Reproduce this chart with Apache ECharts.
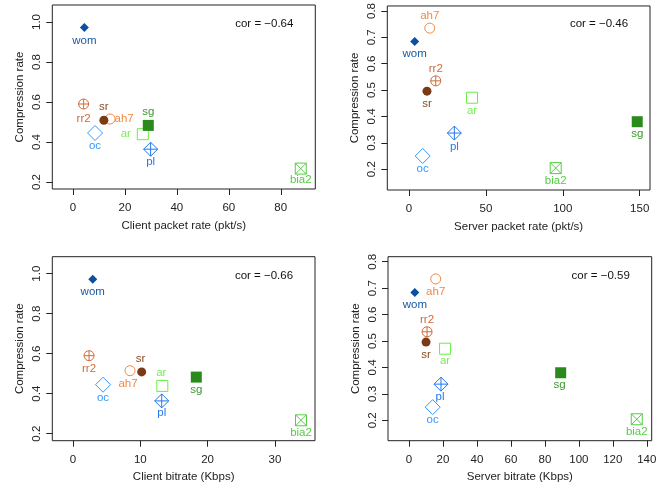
<!DOCTYPE html>
<html><head><meta charset="utf-8">
<script src="https://cdn.jsdelivr.net/npm/echarts@6/dist/echarts.min.js"></script>
<style>html,body{margin:0;padding:0;background:#fff}#c{width:669px;height:485px}</style>
</head><body><div id="c"></div>
<script>
// ---------- data ----------
const names = ['wom','rr2','ah7','sr','oc','ar','sg','pl','bia2'];
const clientPktRate = [4.4, 4.1, 14.3, 11.9, 8.5, 26.9, 29.0, 29.9, 87.7];
const serverPktRate = [3.7, 17.4, 13.5, 11.7, 8.9, 41.0, 148.4, 29.5, 95.4];
const clientBitrate = [2.93, 2.38, 8.47, 10.2, 4.46, 13.27, 18.32, 13.18, 33.88];
const serverBitrate = [3.4, 10.6, 15.7, 10.0, 13.9, 21.2, 89.3, 18.8, 134.1];
const clientCompression = [0.972, 0.59, 0.515, 0.509, 0.445, 0.439, 0.483, 0.364, 0.267];
const serverCompression = [0.684, 0.535, 0.735, 0.496, 0.250, 0.471, 0.380, 0.337, 0.204];
const correlations = ['cor = \u22120.64', 'cor = \u22120.46', 'cor = \u22120.66', 'cor = \u22120.59'];
const xTicks1 = [0, 20, 40, 60, 80];
const xTicks2 = [0, 50, 100, 150];
const xTicks3 = [0, 10, 20, 30];
const xTicks4 = [0, 20, 40, 60, 80, 100, 120, 140];
const yTicksClient = [0.2, 0.4, 0.6, 0.8, 1.0];
const yTicksServer = [0.2, 0.3, 0.4, 0.5, 0.6, 0.7, 0.8];
const xTitles = ['Client packet rate (pkt/s)', 'Server packet rate (pkt/s)', 'Client bitrate (Kbps)', 'Server bitrate (Kbps)'];
const yTitle = 'Compression rate';

// ---------- styling ----------
const FONT = '"Liberation Sans", Arial, Helvetica, sans-serif';
const FS = 11.5;
const TXT = '#222';
const circlePlus = 'path://M-10,0A10,10,0,1,1,10,0A10,10,0,1,1,-10,0ZM0,-10L0,10M-10,0L10,0';
const diamondPlus = 'path://M0,-10L10,0L0,10L-10,0ZM0,-10L0,10M-10,0L10,0';
const squareX = 'path://M-10,-10L10,-10L10,10L-10,10ZM-10,-10L10,10M10,-10L-10,10';
const markerStyle = {
  wom:  {symbol:'diamond', size:9,  filled:true,  color:'#0a4fa0', label:'#1a5aa5'},
  rr2:  {symbol:circlePlus, size:10, filled:false, color:'#cf6a37', label:'#cf6a37'},
  ah7:  {symbol:'circle',  size:10, filled:false, color:'#f5883f', label:'#f5883f'},
  sr:   {symbol:'circle',  size:9,  filled:true,  color:'#7b3a16', label:'#8b4a22'},
  oc:   {symbol:'diamond', size:15, filled:false, color:'#3399ff', label:'#3399ff'},
  ar:   {symbol:'rect',    size:11, filled:false, color:'#66ee44', label:'#77ee55'},
  sg:   {symbol:'rect',    size:11, filled:true,  color:'#2a8a1c', label:'#3a9a2c'},
  pl:   {symbol:diamondPlus, size:14, filled:false, color:'#2277ee', label:'#2277ee'},
  bia2: {symbol:squareX,   size:11, filled:false, color:'#55cc44', label:'#55cc44'}
};
const labelOffsets = [
  {wom:[0,13], rr2:[0,14.5], ah7:[14,0], sr:[0,-13.5], oc:[0,13], ar:[-17,0], sg:[0,-13.5], pl:[0,12.7], bia2:[0,11.5]},
  {ah7:[0,-12.3], wom:[0,12.7], rr2:[0,-12], sr:[0,13], ar:[0,13], pl:[0,13.3], oc:[0,12.7], bia2:[0,13], sg:[0,11.7]},
  {wom:[0,13], rr2:[0,13.3], ah7:[-2,13.3], sr:[-1,-13.3], oc:[0,12.7], ar:[-1,-13.3], sg:[0,13], pl:[0,12.3], bia2:[0,12.7]},
  {ah7:[0,13.3], wom:[0,12.7], rr2:[0,-12.3], sr:[0,13], ar:[0,11.7], sg:[-1,12], pl:[-1,12.3], oc:[0,12.7], bia2:[0,12.3]}
];
const grids = [
  {left:52.3, top:5,     width:263,   height:184},
  {left:387.3, top:5,    width:262.7, height:185},
  {left:52.3, top:256.7, width:262.7, height:184},
  {left:388, top:256.7,  width:263.7, height:184}
];
const xRanges = [[-7.96, 93.3], [-14.1, 156.7], [-3.08, 35.96], [-12.4, 142.9]];
const yRanges = [[0.165, 1.085], [0.121, 0.819], [0.165, 1.085], [0.123, 0.819]];
const panels = [
  {xs: clientPktRate, ys: clientCompression, xt: xTicks1, yt: yTicksClient},
  {xs: serverPktRate, ys: serverCompression, xt: xTicks2, yt: yTicksServer},
  {xs: clientBitrate, ys: clientCompression, xt: xTicks3, yt: yTicksClient},
  {xs: serverBitrate, ys: serverCompression, xt: xTicks4, yt: yTicksServer}
];

const option = {
  animation: false,
  backgroundColor: '#fff',
  grid: grids.map(g => ({left:g.left, top:g.top, width:g.width, height:g.height, show:true,
    borderColor:TXT, borderWidth:1, backgroundColor:'transparent', containLabel:false})),
  xAxis: panels.map((p, i) => ({
    gridIndex:i, type:'value', min:xRanges[i][0], max:xRanges[i][1],
    name:xTitles[i], nameLocation:'middle', nameGap:30.5,
    nameTextStyle:{fontSize:FS, color:TXT, fontFamily:FONT},
    axisLine:{show:false, onZero:false},
    axisTick:{show:true, length:6, customValues:p.xt, lineStyle:{color:TXT, width:1}},
    axisLabel:{customValues:p.xt, margin:13, fontSize:FS, color:TXT, fontFamily:FONT},
    splitLine:{show:false}
  })),
  yAxis: panels.map((p, i) => ({
    gridIndex:i, type:'value', min:yRanges[i][0], max:yRanges[i][1],
    name:yTitle, nameLocation:'middle', nameGap:26,
    nameTextStyle:{fontSize:FS, color:TXT, fontFamily:FONT},
    axisLine:{show:false, onZero:false},
    axisTick:{show:true, length:6, customValues:p.yt, lineStyle:{color:TXT, width:1}},
    axisLabel:{customValues:p.yt, margin:9.5, rotate:90, fontSize:FS, color:TXT, fontFamily:FONT,
      formatter: v => Number(v).toFixed(1)},
    splitLine:{show:false}
  })),
  series: panels.map((p, pi) => ({
    type:'scatter', xAxisIndex:pi, yAxisIndex:pi, silent:true,
    emphasis:{disabled:true},
    data: names.map((n, i) => {
      const m = markerStyle[n];
      return {
        value:[p.xs[i], p.ys[i]],
        symbol:m.symbol, symbolSize:m.size,
        itemStyle: m.filled ? {color:m.color, borderWidth:0, opacity:1}
                            : {color:'rgba(0,0,0,0)', borderColor:m.color, borderWidth:1, opacity:1},
        label:{show:true, formatter:n, position:'inside', offset:labelOffsets[pi][n],
          color:m.label, fontSize:FS, fontFamily:FONT, align:'center', verticalAlign:'middle'}
      };
    })
  })),
  graphic: correlations.map((t, i) => ({
    type:'text', x: grids[i].left + grids[i].width - 51, y: grids[i].top + 19, silent:true,
    style:{text:t, fontSize:FS, fontFamily:FONT, fill:'#111', align:'center', verticalAlign:'middle'}
  }))
};
const chart = echarts.init(document.getElementById('c'), null, {renderer:'canvas'});
chart.setOption(option);
</script></body></html>
